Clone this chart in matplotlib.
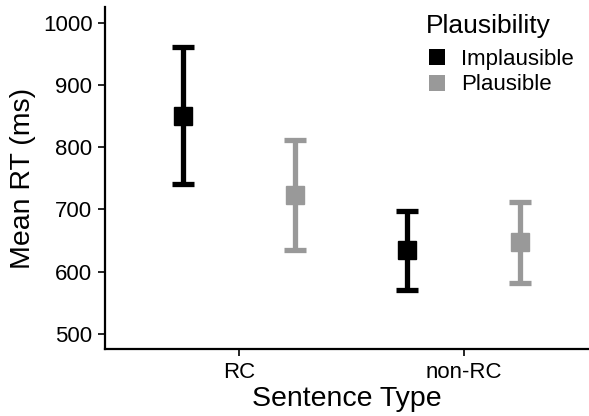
import matplotlib
matplotlib.use("Agg")
import matplotlib.pyplot as plt
from matplotlib.lines import Line2D
import numpy as np

plt.rcParams['font.family'] = ['Liberation Sans', 'DejaVu Sans']

categories = ["RC", "non-RC"]
groups = ["Implausible", "Plausible"]
means = {"Implausible": [850, 634], "Plausible": [723, 647]}
upper = {"Implausible": [960, 697], "Plausible": [812, 712]}
lower = {"Implausible": [741, 571], "Plausible": [635, 582]}
colors = {"Implausible": "#000000", "Plausible": "#999999"}
yticks = [500, 600, 700, 800, 900, 1000]

fig = plt.figure(figsize=(5.89, 4.16), dpi=100)
ax = fig.add_axes([105/589, (416-349.3)/416, (589-105)/589, (349.3-7)/416])

dodge = {"Implausible": -0.25, "Plausible": 0.25}
xbase = np.arange(1, len(categories)+1)
for g in groups:
    m = np.array(means[g]); u = np.array(upper[g]); l = np.array(lower[g])
    ax.errorbar(xbase + dodge[g], m, yerr=[m - l, u - m], fmt='s', color=colors[g],
                ecolor=colors[g], elinewidth=3.8, capsize=8, capthick=3.8,
                markersize=13, markeredgecolor=colors[g])

ax.set_xlim(0.4, 2.56)
ax.set_ylim(475, 1025)
ax.set_xticks(xbase)
ax.set_xticklabels(categories)
ax.set_yticks(yticks)
ax.tick_params(axis='both', labelsize=16, length=5, width=1.2, color='black', pad=4)
for s in ['top', 'right']:
    ax.spines[s].set_visible(False)
for s in ['left', 'bottom']:
    ax.spines[s].set_linewidth(1.6)
ax.set_xlabel("Sentence Type", fontsize=20.5, labelpad=2)
ax.set_ylabel("Mean RT (ms)", fontsize=20.5, labelpad=5)

handles = [Line2D([], [], marker='s', linestyle='none', color=colors[g], markersize=12,
                  markeredgewidth=0) for g in groups]
leg = ax.legend(handles, groups, title="Plausibility", loc='upper left',
                bbox_to_anchor=(417/589, 1 - 5/416), bbox_transform=fig.transFigure,
                frameon=False, fontsize=16, title_fontsize=19, handlelength=1.0,
                handletextpad=0.6, labelspacing=0.2, borderaxespad=0, alignment='left')
leg._legend_box.sep = 8

fig.savefig("out.png", dpi=100)
